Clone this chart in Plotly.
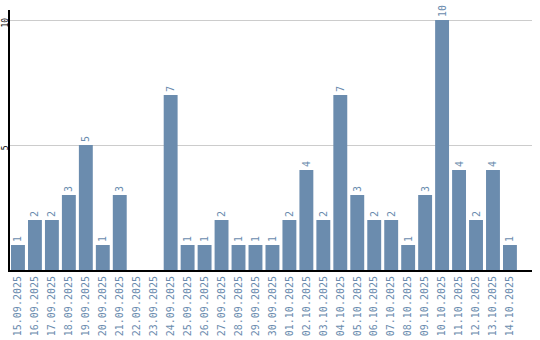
import plotly.graph_objects as go

dates = ["15.09.2025","16.09.2025","17.09.2025","18.09.2025","19.09.2025","20.09.2025",
         "21.09.2025","22.09.2025","23.09.2025","24.09.2025","25.09.2025","26.09.2025",
         "27.09.2025","28.09.2025","29.09.2025","30.09.2025","01.10.2025","02.10.2025",
         "03.10.2025","04.10.2025","05.10.2025","06.10.2025","07.10.2025","08.10.2025",
         "09.10.2025","10.10.2025","11.10.2025","12.10.2025","13.10.2025","14.10.2025"]
values = [1,2,2,3,5,1,3,0,0,7,1,1,2,1,1,1,2,4,2,7,3,2,2,1,3,10,4,2,4,1]
ytick_vals = [5, 10]

bar_color = "#6b8cae"
label_color = "#6a8bae"
mono = "DejaVu Sans Mono"

fig = go.Figure(go.Bar(
    x=list(range(len(dates))), y=values,
    text=[str(v) if v else "" for v in values],
    textposition="outside", textangle=-90, cliponaxis=False,
    constraintext="none",
    textfont=dict(family=mono, size=10, color=label_color),
    marker=dict(color=bar_color, line=dict(width=0)),
    width=0.82,
))
fig.update_layout(
    width=540, height=340,
    margin=dict(l=10, r=8, t=10, b=70),
    paper_bgcolor="white", plot_bgcolor="white",
    showlegend=False,
    xaxis=dict(tickvals=list(range(len(dates))), ticktext=dates, tickangle=-90,
               range=[-0.47, 30.3], showgrid=False, showline=True, linecolor="black",
               linewidth=2, ticks="", zeroline=False, automargin=False,
               tickfont=dict(family=mono, size=10, color=label_color)),
    yaxis=dict(range=[0, 10.4], tickvals=ytick_vals, tickangle=-90,
               showgrid=True, gridcolor="#cccccc", gridwidth=1,
               showline=True, linecolor="black", linewidth=2, ticks="",
               zeroline=False, automargin=False, ticklabelstandoff=-3,
               ticklabelshift=4,
               tickfont=dict(family=mono, size=8, color="black")),
)
fig.write_html("out.html")
